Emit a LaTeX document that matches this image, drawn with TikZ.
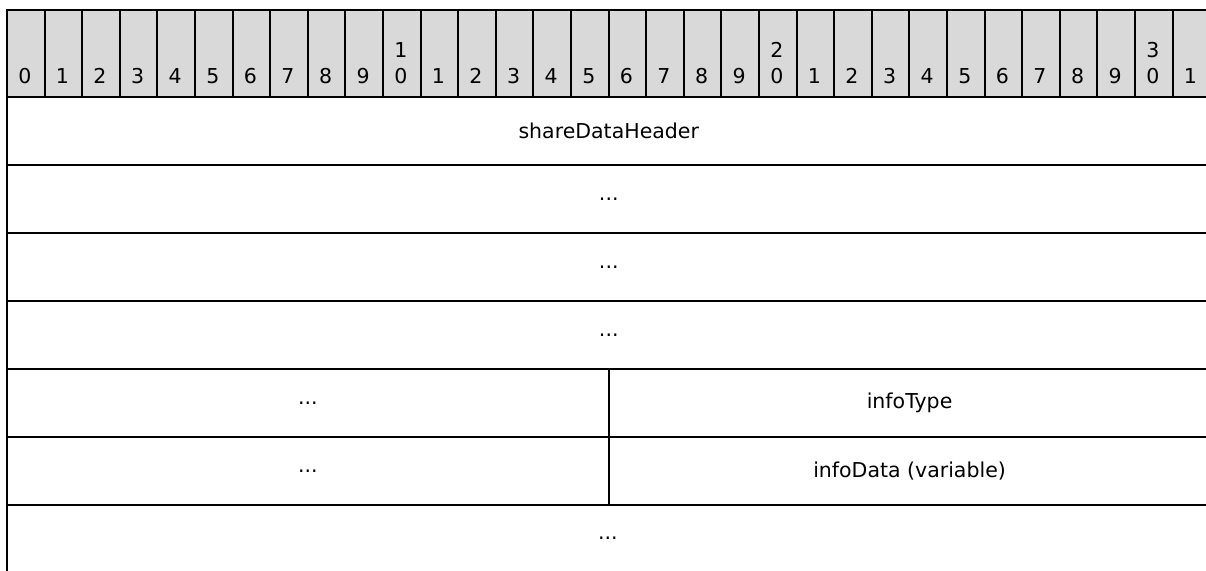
\documentclass[tikz,border=0pt]{standalone}
\usepackage{fontspec}
\setmainfont{DejaVu Sans}
\definecolor{hdgray}{HTML}{D9D9D9}
\begin{document}
\begin{tikzpicture}[x=1pt,y=-1pt,
  every node/.style={font=\fontsize{20.5}{24}\selectfont},
  hcell/.style={draw=black,line width=2pt,fill=hdgray,minimum width=37.6pt,minimum height=87pt,inner sep=0pt,anchor=north west},
  rowbox/.style={draw=black,line width=2pt,minimum height=68pt,inner sep=0pt,anchor=north west},
  digit/.style={anchor=base,inner sep=0pt}]
\useasboundingbox (0,0) rectangle (1206,570);
% header cells
\foreach \i in {0,...,31}{
  \pgfmathsetmacro{\xx}{6+37.6*\i}
  \node[hcell] (h\i) at (\xx,9) {};
}
\foreach \i in {0,...,31}{
  \pgfmathsetmacro{\xc}{6+37.6*\i+18.8}
  \pgfmathtruncatemacro{\ones}{mod(\i,10)}
  \node[digit] (d\i) at (\xc,83) {\ones};
}
\foreach \i/\t in {10/1,20/2,30/3}{
  \pgfmathsetmacro{\xc}{6+37.6*\i+18.8}
  \node[digit] (t\i) at (\xc,57) {\t};
}
% rows
\node[rowbox,minimum width=1203.5pt] (r1) at (6,96) {shareDataHeader};
\node[rowbox,minimum width=1203.5pt] (r2) at (6,164) {...};
\node[rowbox,minimum width=1203.5pt] (r3) at (6,232) {...};
\node[rowbox,minimum width=1203.5pt] (r4) at (6,300) {...};
\node[rowbox,minimum width=601.6pt] (r5a) at (6,368) {...};
\node[rowbox,minimum width=601.9pt] (r5b) at (607.6,368) {infoType};
\node[rowbox,minimum width=601.6pt] (r6a) at (6,436) {...};
\node[rowbox,minimum width=601.9pt] (r6b) at (607.6,436) {infoData (variable)};
\node[rowbox,minimum width=1203.5pt,minimum height=80pt] (r7) at (6,504) {};
\node (r7t) at (607.8,538) {...};
\end{tikzpicture}
\end{document}
